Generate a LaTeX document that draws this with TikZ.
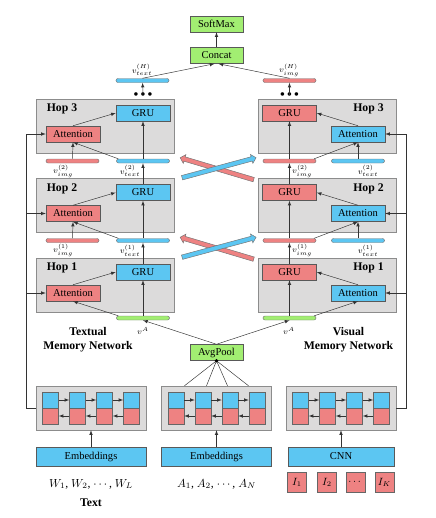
\documentclass[tikz,border=0pt]{standalone}
\usepackage{amsmath}
\usepackage{fontspec}
\setmainfont{Liberation Serif}
\usepackage{tikz}
\usetikzlibrary{shapes,arrows}
\usetikzlibrary{positioning,fit}
\definecolor{skyb}{HTML}{5CC6F2}
\definecolor{pinkr}{HTML}{EE8282}
\definecolor{lgreen}{HTML}{A2EE72}
\definecolor{hopgray}{HTML}{DCDBDB}
\tikzstyle{hop} = [draw=black!45, fill=hopgray, minimum width=4.14cm,
    minimum height=1.62cm, inner sep=0pt]
\tikzstyle{unit} = [draw=black!65, minimum width=1.62cm, minimum height=0.48cm,
    inner sep=0pt, font=\fontsize{9}{10}\selectfont]
\tikzstyle{grn} = [unit, fill=lgreen, minimum width=1.59cm]
\tikzstyle{bar} = [draw=black!55, rounded corners=0.06cm, minimum width=1.59cm,
    minimum height=0.12cm, inner sep=0pt]
\tikzstyle{lbl} = [font=\fontsize{7}{8}\selectfont, inner sep=0pt]
\tikzstyle{hoplbl} = [font=\fontsize{10}{12}\selectfont\bfseries]
\tikzstyle{cell} = [draw=black!60, minimum size=0.48cm, inner sep=0pt]
\tikzstyle{rnn} = [draw=black!45, fill=hopgray, minimum width=3.3cm,
    minimum height=1.32cm]
\tikzstyle{emb} = [unit, fill=skyb, minimum width=3.3cm, minimum height=0.57cm]
\tikzstyle{xarrow} = [single arrow, draw=black!55, minimum height=2.3cm,
    inner sep=0pt, inner ysep=0.06cm, single arrow head extend=0.07cm,
    single arrow head indent=0pt]
\tikzstyle{line} = [draw, -latex, black!80]

\begin{document}
\begin{tikzpicture}[x=0.03cm, y=-0.03cm]
  \useasboundingbox (0,0) rectangle (435,518);

  % output part
  \node [grn] (soft) at (216.5,24) {SoftMax};
  \node [grn] (concat) at (216.5,55.5) {Concat};
  \node [bar, fill=skyb] (ltop) at (142.5,80.5) {};
  \node [bar, fill=pinkr] (rtop) at (289.5,80.5) {};
  \node [lbl] at (142,70) {$v_{text}^{(H)}$};
  \node [lbl] at (289,70) {$v_{img}^{(H)}$};
  \node [lbl] (ldots) at (143,95) {$\bullet\bullet\bullet$};
  \node [lbl] (rdots) at (289.5,95) {$\bullet\bullet\bullet$};
  \path [line] (ldots.center) -- (ltop);
  \path [line] (rdots.center) -- (rtop);
  \path [line] (ltop.north) -- ([xshift=-0.06cm]concat.south);
  \path [line] (rtop.north) -- ([xshift=0.06cm]concat.south);
  \path [line] (concat) -- (soft);

  % memory hops
  \foreach \i/\y in {1/285, 2/205.5, 3/126} {
    \node [hop] (lhop\i) at (105,\y) {};
    \node [hop] (rhop\i) at (327,\y) {};
    \node [hoplbl] at (62,\y-17) {Hop \i};
    \node [hoplbl] at (368.5,\y-17) {Hop \i};
    \node [unit, fill=skyb] (lgru\i) at (143,\y-13) {GRU};
    \node [unit, fill=pinkr] (latt\i) at (73,\y+8) {Attention};
    \node [unit, fill=pinkr] (rgru\i) at (289.5,\y-13) {GRU};
    \node [unit, fill=skyb] (ratt\i) at (358,\y+8) {Attention};
    \path [line] (latt\i.north) -- (lgru\i.west);
    \path [line] (ratt\i.north) -- (rgru\i.east);
  }

  % memory vectors between hops
  \foreach \i/\j/\y in {2/1/205.5, 3/2/126} {
    \node [bar, fill=pinkr] (lbi\i) at (72.5,\y+35) {};
    \node [bar, fill=skyb] (lbt\i) at (143,\y+35) {};
    \node [bar, fill=pinkr] (rbi\i) at (289.5,\y+35) {};
    \node [bar, fill=skyb] (rbt\i) at (358,\y+35) {};
    \node [lbl] at (63,\y+45) {$v_{img}^{(\j)}$};
    \node [lbl] at (130,\y+45) {$v_{text}^{(\j)}$};
    \node [lbl] at (302,\y+45) {$v_{img}^{(\j)}$};
    \node [lbl] at (368,\y+45) {$v_{text}^{(\j)}$};
    \path [line] (lbi\i.north) -- (latt\i.south);
    \path [line] ([xshift=0.06cm]lbt\i.north west) -- (latt\i.south);
    \path [line] (lbt\i.north) -- (lgru\i.south);
    \path [line] (lgru\j.north) -- (lbt\i.south);
    \path [line] (rbt\i.north) -- (ratt\i.south);
    \path [line] ([xshift=-0.06cm]rbi\i.north east) -- (ratt\i.south);
    \path [line] (rbi\i.north) -- (rgru\i.south);
    \path [line] (rgru\j.north) -- (rbi\i.south);
    \node [xarrow, fill=pinkr, rotate=163.4] (redx\i) at (218,\y+43) {};
    \node [xarrow, fill=skyb, rotate=15.1] (bluex\i) at (218,\y+42) {};
  }

  % first hop input
  \node [bar, fill=lgreen] (lva) at (143,318) {};
  \node [bar, fill=lgreen] (rva) at (289.5,318) {};
  \node [lbl] at (143,331) {$v^{A}$};
  \node [lbl] at (289,331) {$v^{A}$};
  \path [line] (lva.north) -- (lgru1.south);
  \path [line] ([xshift=0.06cm]lva.north west) -- (latt1.south);
  \path [line] (rva.north) -- (rgru1.south);
  \path [line] ([xshift=-0.06cm]rva.north east) -- (ratt1.south);
  \node [grn] (avg) at (216.5,352.5) {AvgPool};
  \path [line] (avg.north) -- (lva.south);
  \path [line] (avg.north) -- (rva.south);
  \node [hoplbl, align=center] at (88,340) {Textual\\Memory Network};
  \node [hoplbl, align=center] at (348.5,340) {Visual\\Memory Network};

  % bidirectional encoders
  \foreach \s/\cx in {l/91, m/216.5, r/341} {
    \node [rnn] (\s box) at (\cx,408) {};
    \foreach \k in {1,...,4} {
      \node [cell, fill=skyb] (\s f\k) at (\cx-67.5+27*\k,400) {};
      \node [cell, fill=pinkr] (\s g\k) at (\cx-67.5+27*\k,416) {};
    }
    \foreach \k [count=\j from 2] in {1,2,3} {
      \path [line] (\s f\k) -- (\s f\j);
      \path [line] (\s g\j) -- (\s g\k);
    }
  }
  \foreach \o in {-32,-10,11,32}
    \draw [black!80] (avg.south) -- ([xshift=\o*0.03cm]mbox.north);
  \fill (avg.south) circle (1.6pt);

  % feedback to attention
  \foreach \i in {1,2,3} {
    \path [line] (lbox.west) -- ++(-10,0) |- (latt\i.west);
    \path [line] (rbox.east) -- ++(10,0) |- (ratt\i.east);
  }

  % inputs
  \node [emb] (lemb) at (91,456.5) {Embeddings};
  \node [emb] (memb) at (216.5,456.5) {Embeddings};
  \node [emb, minimum width=3.18cm] (cnn) at (341,456.5) {CNN};
  \path [line] (lemb) -- (lbox);
  \path [line] (memb) -- (mbox);
  \path [line] (cnn) -- (rbox);
  \node (words) at (91,484) {$W_1$, $W_2$, $\cdots$, $W_L$};
  \node [hoplbl] (text) at (91,503) {Text};
  \node (attrs) at (216.5,484) {$A_1$, $A_2$, $\cdots$, $A_N$};
  \foreach \x/\t [count=\k] in {297/I_1, 327/I_2, 355.5/\cdots, 384.5/I_K}
    \node [cell, fill=pinkr, minimum width=0.57cm, minimum height=0.6cm,
      font=\fontsize{9}{10}\selectfont] (img\k) at (\x,482) {$\t$};
\end{tikzpicture}
\end{document}
